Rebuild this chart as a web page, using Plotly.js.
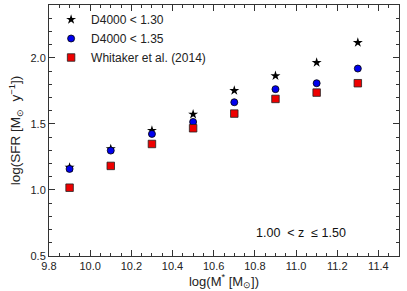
<!DOCTYPE html>
<html>
<head>
<meta charset="utf-8">
<script src="https://cdn.plot.ly/plotly-3.0.1.min.js"></script>
<style>html,body{margin:0;padding:0;background:#fff;}#chart{width:407px;height:291px;}</style>
</head>
<body>
<div id="chart"></div>
<script>
const massBins = [9.9, 10.1, 10.3, 10.5, 10.7, 10.9, 11.1, 11.3];
const sfrD130 = [1.17, 1.31, 1.45, 1.573, 1.752, 1.864, 1.964, 2.116];
const sfrD135 = [1.159, 1.298, 1.424, 1.515, 1.664, 1.763, 1.808, 1.919];
const massWhitaker = [9.9, 10.1, 10.3, 10.5, 10.7, 10.9, 11.1, 11.3];
const sfrWhitaker = [1.017, 1.182, 1.348, 1.467, 1.578, 1.689, 1.737, 1.808];
const seriesNames = ["D4000 < 1.30", "D4000 < 1.35", "Whitaker et al. (2014)"];

const fontFam = "Liberation Sans, Arial, sans-serif";
const traces = [
  {x: massBins, y: sfrD130, name: seriesNames[0], mode: "markers", type: "scatter",
   marker: {symbol: "star", size: 7.5, color: "#000", line: {width: 0}}},
  {x: massBins, y: sfrD135, name: seriesNames[1], mode: "markers", type: "scatter",
   marker: {symbol: "circle", size: 7, color: "#0000ee", line: {width: 0.8, color: "#000"}}},
  {x: massWhitaker, y: sfrWhitaker, name: seriesNames[2], mode: "markers", type: "scatter",
   marker: {symbol: "square", size: 7.5, color: "#ee0000", line: {width: 0.8, color: "#222"}}}
];
const axisCommon = {
  showgrid: false, zeroline: false, showline: true, linecolor: "#333", linewidth: 1,
  mirror: "ticks", ticks: "inside", ticklen: 6, tickcolor: "#333", tickwidth: 1,
  tickfont: {family: fontFam, size: 11, color: "#222"}, tickformat: ".1f"
};
const layout = {
  width: 407, height: 291,
  margin: {l: 49, r: 8, t: 5, b: 35},
  paper_bgcolor: "#fff", plot_bgcolor: "#fff",
  font: {family: fontFam, size: 11, color: "#222"},
  xaxis: Object.assign({}, axisCommon, {
    range: [9.8, 11.5], dtick: 0.2, tick0: 9.8,
    minor: {dtick: 0.05, ticklen: 3, ticks: "inside", tickcolor: "#333"},
    title: {text: "log(M<sup>*</sup> [M<sub>⊙</sub>])", font: {family: fontFam, size: 13, color: "#222"}, standoff: 1}
  }),
  yaxis: Object.assign({}, axisCommon, {
    range: [0.5, 2.4], dtick: 0.5, tick0: 0.5,
    minor: {dtick: 0.1, ticklen: 3, ticks: "inside", tickcolor: "#333"},
    title: {text: "log(SFR [M<sub>⊙</sub>\u00a0\u00a0y<sup>−1</sup>])", font: {family: fontFam, size: 13.5, color: "#222"}, standoff: 6}
  }),
  showlegend: true,
  legend: {x: 0.006, y: 1.0, xanchor: "left", yanchor: "top", bgcolor: "rgba(0,0,0,0)",
    font: {family: fontFam, size: 12, color: "#222"}, tracegroupgap: 0},
  annotations: [{
    xref: "paper", yref: "paper", x: 0.72, y: 0.09, xanchor: "center", yanchor: "middle",
    text: "1.00\u00a0\u00a0< z\u00a0\u00a0≤ 1.50", showarrow: false, font: {family: fontFam, size: 12.5, color: "#111"}
  }]
};
Plotly.newPlot("chart", traces, layout, {displayModeBar: false, staticPlot: true});
</script>
</body>
</html>
